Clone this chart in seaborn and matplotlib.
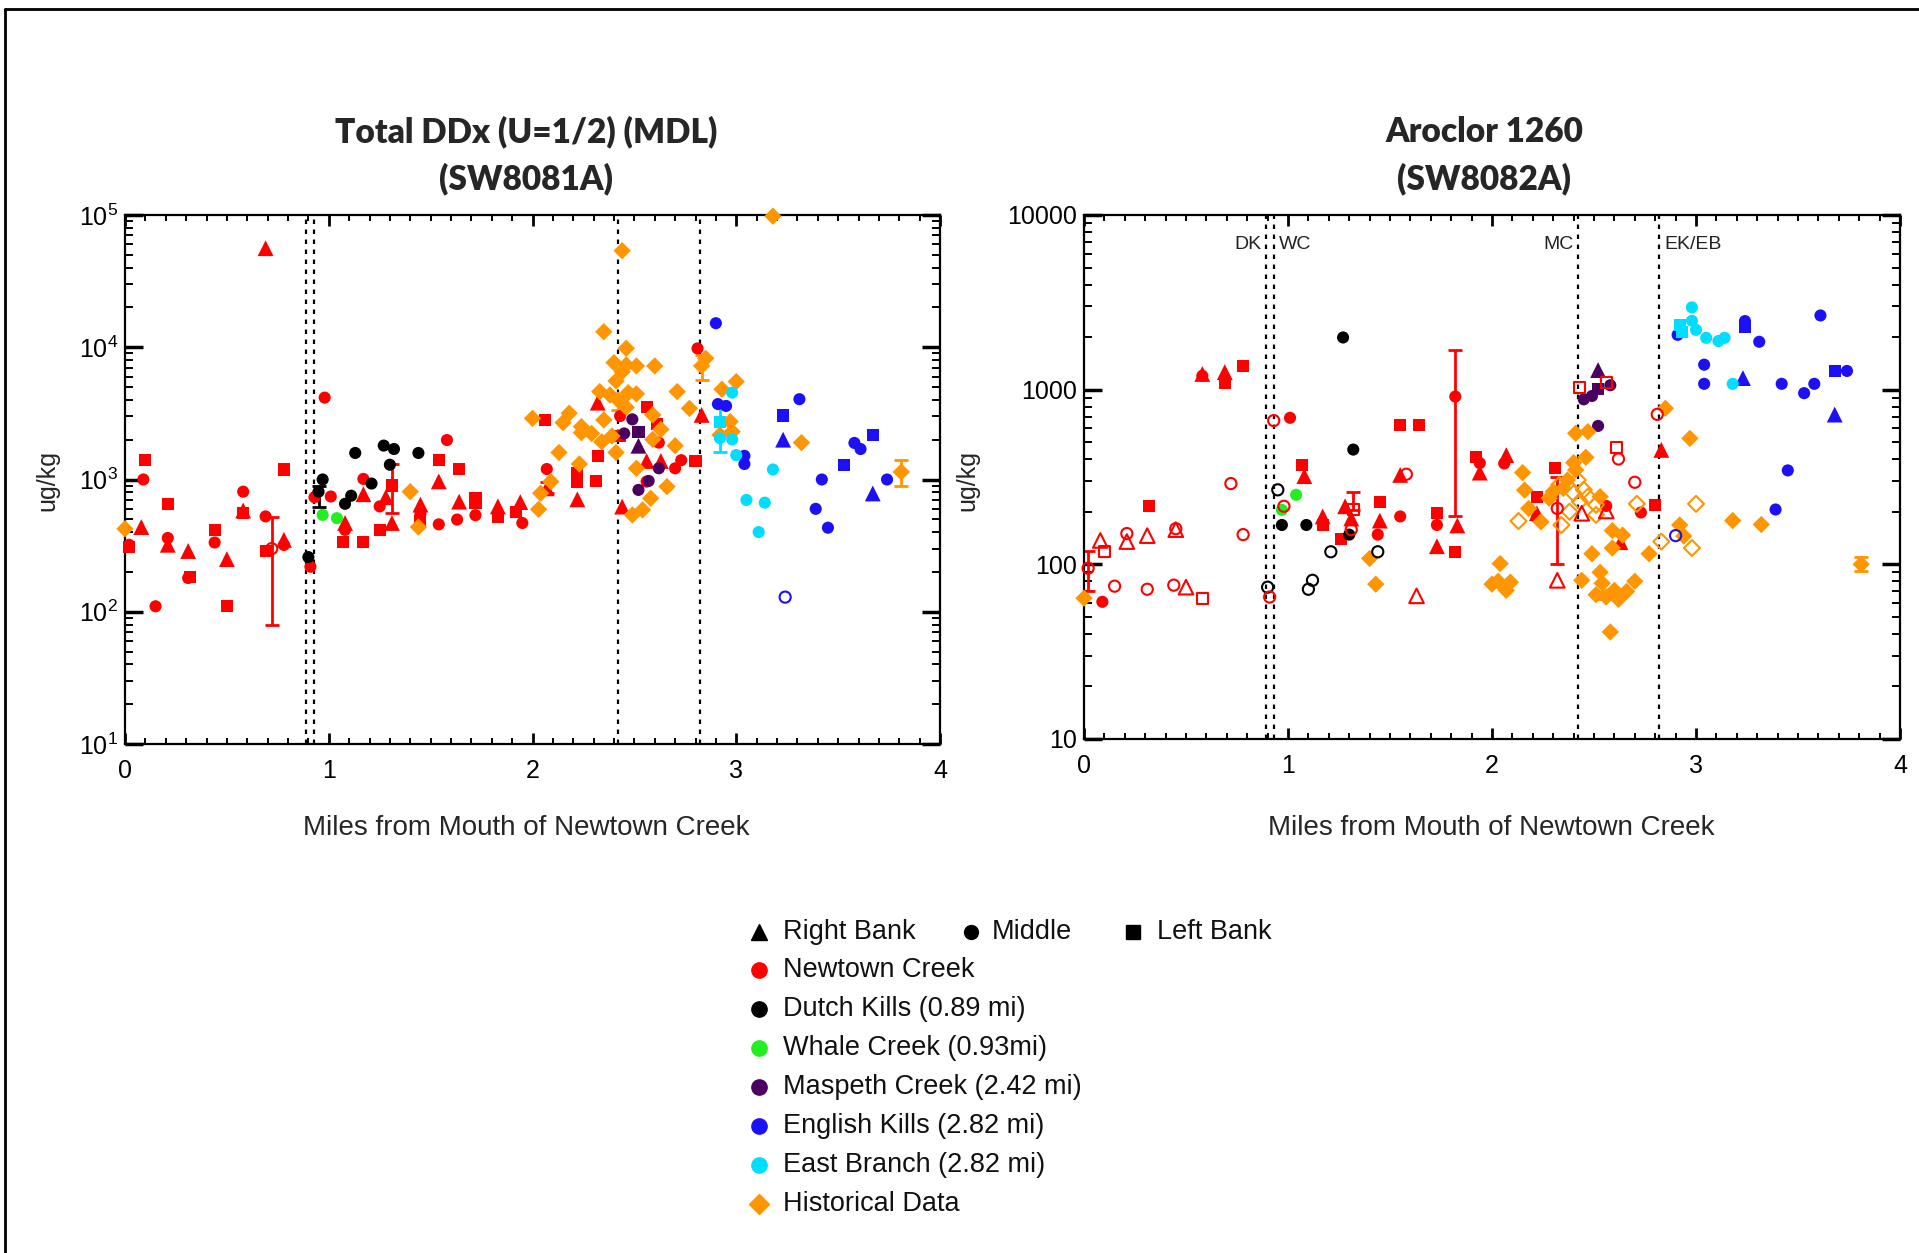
import pandas as pd
import seaborn as sns
import matplotlib.pyplot as plt
from matplotlib.lines import Line2D
from matplotlib.ticker import FixedLocator, MultipleLocator, LogLocator, NullFormatter, FuncFormatter

# <=============================================================>
#  Data (miles from mouth, ug/kg)
# <=============================================================>
# Total DDx (SW8081A)
DDX_NC_TRI = [(0.08, 437), (0.21, 321), (0.31, 288), (0.50, 250), (0.58, 583), (0.69, 56100), (0.78, 350),
              (1.08, 469), (1.17, 774), (1.31, 469), (1.28, 735), (1.45, 646), (1.54, 968), (1.64, 680),
              (1.83, 626), (1.94, 675), (2.07, 858), (2.22, 708), (2.32, 3810), (2.44, 624), (2.56, 1380),
              (2.63, 1380), (2.83, 3080)]
DDX_NC_MID = [(0.02, 321), (0.09, 1000), (0.15, 110), (0.21, 361), (0.31, 180), (0.44, 334), (0.58, 809),
              (0.69, 526), (0.78, 320), (0.91, 219), (0.93, 735), (0.98, 4160), (1.01, 744), (1.08, 416),
              (1.17, 1010), (1.25, 626), (1.45, 552), (1.54, 458), (1.58, 1987), (1.63, 498), (1.72, 537),
              (1.95, 469), (2.07, 1200), (2.43, 3020), (2.56, 964), (2.62, 1900), (2.70, 1215), (2.73, 1400),
              (2.81, 9800)]
DDX_NC_MID_OPEN = [(0.72, 300)]
DDX_NC_LEFT = [(0.02, 310), (0.10, 1400), (0.21, 652), (0.32, 184), (0.44, 416), (0.50, 110), (0.58, 560),
               (0.69, 288), (0.78, 1190), (1.07, 339), (1.17, 339), (1.25, 416), (1.31, 900), (1.45, 488),
               (1.54, 1400), (1.64, 1205), (1.72, 725), (1.72, 667), (1.83, 521), (1.92, 565), (2.06, 2820),
               (2.22, 1115), (2.22, 964), (2.31, 977), (2.32, 1510), (2.43, 2130), (2.56, 3510), (2.61, 2610),
               (2.80, 1390)]
DDX_DK_MID = [(0.90, 259), (0.95, 809), (0.97, 1000), (1.08, 655), (1.11, 754), (1.13, 1587), (1.21, 932),
              (1.27, 1805), (1.30, 1293), (1.32, 1700), (1.44, 1587)]
DDX_WC_MID = [(0.97, 540), (1.04, 510)]
DDX_MC_MID = [(2.45, 2230), (2.49, 2850), (2.52, 834), (2.57, 975), (2.62, 1215)]
DDX_MC_LEFT = [(2.52, 2300)]
DDX_MC_TRI = [(2.52, 1800)]
DDX_EK_MID = [(2.90, 15200), (2.91, 3720), (2.95, 3600), (3.04, 1510), (3.04, 1310), (3.31, 4050), (3.39, 600),
              (3.42, 1000), (3.45, 432), (3.58, 1890), (3.61, 1700), (3.74, 1000)]
DDX_EK_LEFT = [(3.23, 3050), (3.53, 1290), (3.67, 2160)]
DDX_EK_TRI = [(3.23, 2000), (3.67, 784)]
DDX_EK_MID_OPEN = [(3.24, 129)]
DDX_EB_MID = [(2.98, 4540), (2.92, 2050), (2.98, 2010), (3.00, 1530), (3.05, 700), (3.11, 400), (3.14, 668),
              (3.18, 1190)]
DDX_EB_LEFT = [(2.92, 2740)]
DDX_HIST = [(0.00, 424), (1.40, 809), (1.44, 437), (2.00, 2900), (2.03, 595), (2.04, 787), (2.09, 964),
            (2.13, 1600), (2.15, 2690), (2.18, 3170), (2.23, 1310), (2.24, 2510), (2.24, 2260), (2.29, 2230),
            (2.33, 4620), (2.34, 1930), (2.35, 2820), (2.35, 13100), (2.38, 4360), (2.39, 2130), (2.40, 7650),
            (2.41, 5560), (2.41, 1600), (2.42, 3990), (2.44, 6530), (2.44, 53700), (2.46, 9820), (2.46, 3510),
            (2.46, 7350), (2.47, 4540), (2.49, 540), (2.51, 1215), (2.51, 7220), (2.51, 4440), (2.54, 589),
            (2.58, 721), (2.59, 2010), (2.59, 3080), (2.60, 7220), (2.63, 2390), (2.66, 883), (2.70, 1800),
            (2.71, 4620), (2.77, 3450), (2.83, 7220), (2.85, 8240), (2.92, 2170), (2.93, 4810), (2.97, 2740),
            (2.98, 2300), (3.00, 5500), (3.18, 98000), (3.32, 1900), (3.81, 1140)]
# error bars: (mile, low, high, site)
DDX_ERR = [(0.72, 80, 520, 'Newtown Creek'), (1.31, 560, 1300, 'Newtown Creek'), (2.07, 790, 950, 'Newtown Creek'),
           (0.95, 617, 893, 'Dutch Kills (0.89 mi)'), (2.92, 1625, 3770, 'East Branch (2.82 mi)'),
           (2.42, 3360, 4280, 'Historical Data'), (2.83, 5660, 8730, 'Historical Data'),
           (3.81, 900, 1400, 'Historical Data')]

# Aroclor 1260 (SW8082A)
ARO_NC_TRI = [(0.58, 1230), (0.69, 1260), (1.08, 320), (1.17, 188), (1.28, 215), (1.31, 183), (1.45, 178),
              (1.55, 325), (1.73, 127), (1.83, 167), (1.94, 335), (2.07, 422), (2.22, 196), (2.63, 134),
              (2.83, 452)]
ARO_NC_MID = [(0.09, 61), (0.58, 1200), (1.01, 690), (1.44, 148), (1.55, 188), (1.73, 168), (1.82, 913),
              (1.94, 380), (2.06, 378), (2.22, 185), (2.56, 216), (2.73, 198)]
ARO_NC_LEFT = [(0.32, 215), (0.69, 1090), (0.78, 1370), (1.07, 370), (1.17, 168), (1.26, 139), (1.45, 227),
               (1.55, 627), (1.64, 625), (1.73, 197), (1.82, 117), (1.92, 413), (2.22, 242), (2.31, 357),
               (2.80, 219)]
ARO_NC_MID_OPEN = [(0.02, 95), (0.15, 75), (0.21, 150), (0.31, 72), (0.44, 76), (0.45, 160), (0.72, 290),
                   (0.78, 148), (0.91, 65), (0.93, 665), (0.98, 215), (1.31, 158), (1.58, 328), (2.32, 209),
                   (2.62, 401), (2.70, 295), (2.81, 722)]
ARO_NC_TRI_OPEN = [(0.08, 137), (0.21, 135), (0.31, 146), (0.45, 158), (0.50, 74), (1.63, 66), (2.32, 81),
                   (2.44, 196), (2.56, 202)]
ARO_NC_LEFT_OPEN = [(0.10, 118), (0.58, 64), (1.32, 205), (2.43, 1030), (2.56, 1100), (2.61, 466)]
ARO_DK_MID = [(0.97, 168), (1.09, 168), (1.27, 1990), (1.30, 148), (1.32, 454)]
ARO_DK_MID_OPEN = [(0.90, 74), (0.95, 267), (1.10, 72), (1.12, 81), (1.21, 118), (1.44, 118)]
ARO_WC_MID = [(0.97, 205), (1.04, 250)]
ARO_MC_MID = [(2.45, 880), (2.49, 920), (2.52, 620), (2.58, 1060)]
ARO_MC_LEFT = [(2.52, 1010)]
ARO_MC_TRI = [(2.52, 1295)]
ARO_EK_MID = [(2.91, 2060), (3.04, 1390), (3.04, 1080), (3.24, 2470), (3.31, 1880), (3.39, 206), (3.42, 1080),
              (3.45, 345), (3.53, 955), (3.58, 1080), (3.61, 2660), (3.74, 1280)]
ARO_EK_LEFT = [(3.24, 2300), (3.68, 1280)]
ARO_EK_TRI = [(3.23, 1165), (3.68, 720)]
ARO_EK_MID_OPEN = [(2.90, 146)]
ARO_EB_MID = [(2.98, 2960), (2.98, 2480), (3.00, 2200), (3.05, 1980), (3.11, 1900), (3.14, 1980), (3.18, 1080)]
ARO_EB_LEFT = [(2.92, 2350), (2.93, 2150)]
ARO_HIST = [(0.00, 64), (1.40, 108), (1.43, 77), (2.00, 77), (2.03, 80), (2.04, 101), (2.07, 71), (2.09, 79),
            (2.15, 335), (2.16, 266), (2.18, 209), (2.24, 175), (2.28, 239), (2.30, 261), (2.35, 272),
            (2.37, 304), (2.40, 382), (2.41, 347), (2.41, 563), (2.44, 81), (2.46, 410), (2.47, 575),
            (2.49, 115), (2.51, 67), (2.53, 244), (2.53, 90), (2.54, 78), (2.56, 65), (2.58, 41), (2.59, 156),
            (2.59, 124), (2.60, 71), (2.62, 63), (2.64, 147), (2.66, 70), (2.70, 80), (2.77, 115), (2.85, 782),
            (2.92, 168), (2.94, 145), (2.97, 526), (3.18, 178), (3.32, 169), (3.81, 100)]
ARO_HIST_OPEN = [(2.13, 177), (2.33, 285), (2.34, 168), (2.38, 200), (2.40, 255), (2.42, 304), (2.43, 229),
                 (2.45, 267), (2.47, 244), (2.51, 219), (2.51, 192), (2.71, 222), (2.83, 135), (2.98, 124),
                 (3.00, 222)]
ARO_ERR = [(0.02, 70, 120, 'Newtown Creek'), (1.32, 205, 258, 'Newtown Creek'), (1.82, 190, 1680, 'Newtown Creek'),
           (2.32, 101, 318, 'Newtown Creek'), (2.54, 63, 78, 'Historical Data'), (3.81, 92, 110, 'Historical Data')]

SIDE_CHANNELS = [0.89, 0.93, 2.42, 2.82]
CHANNEL_TAGS = ['DK', 'WC', 'MC', 'EK/EB']
SITES = ['Newtown Creek', 'Dutch Kills (0.89 mi)', 'Whale Creek (0.93mi)', 'Maspeth Creek (2.42 mi)',
         'English Kills (2.82 mi)', 'East Branch (2.82 mi)', 'Historical Data']
SITE_COLORS = ['#FF0000', '#000000', '#22EE22', '#4A0060', '#1C10F5', '#00DDFF', '#FF9500']
POSITIONS = ['Right Bank', 'Middle', 'Left Bank']

# <=============================================================>
#  Tables built from the lists
# <=============================================================>
NC, DK, WC, MC, EK, EB, HI = SITES
RB, MD, LB, HD = 'Right Bank', 'Middle', 'Left Bank', 'Historical'
DDX_SETS = [(NC, RB, True, DDX_NC_TRI), (NC, MD, True, DDX_NC_MID), (NC, LB, True, DDX_NC_LEFT),
            (NC, MD, False, DDX_NC_MID_OPEN), (DK, MD, True, DDX_DK_MID), (WC, MD, True, DDX_WC_MID),
            (MC, MD, True, DDX_MC_MID), (MC, LB, True, DDX_MC_LEFT), (MC, RB, True, DDX_MC_TRI),
            (HI, HD, True, DDX_HIST), (EK, MD, True, DDX_EK_MID), (EK, LB, True, DDX_EK_LEFT),
            (EK, RB, True, DDX_EK_TRI), (EK, MD, False, DDX_EK_MID_OPEN), (EB, MD, True, DDX_EB_MID),
            (EB, LB, True, DDX_EB_LEFT)]
ARO_SETS = [(NC, RB, True, ARO_NC_TRI), (NC, MD, True, ARO_NC_MID), (NC, LB, True, ARO_NC_LEFT),
            (NC, MD, False, ARO_NC_MID_OPEN), (NC, RB, False, ARO_NC_TRI_OPEN), (NC, LB, False, ARO_NC_LEFT_OPEN),
            (DK, MD, True, ARO_DK_MID), (DK, MD, False, ARO_DK_MID_OPEN), (WC, MD, True, ARO_WC_MID),
            (MC, MD, True, ARO_MC_MID), (MC, LB, True, ARO_MC_LEFT), (MC, RB, True, ARO_MC_TRI),
            (HI, HD, True, ARO_HIST), (HI, HD, False, ARO_HIST_OPEN), (EK, MD, True, ARO_EK_MID),
            (EK, LB, True, ARO_EK_LEFT), (EK, RB, True, ARO_EK_TRI), (EK, MD, False, ARO_EK_MID_OPEN),
            (EB, MD, True, ARO_EB_MID), (EB, LB, True, ARO_EB_LEFT)]

PALETTE = dict(zip(SITES, SITE_COLORS))
MARKERS = {RB: '^', MD: 'o', LB: 's', HD: 'D'}
MARKER_AREA = {RB: 130, MD: 76, LB: 76, HD: 78}


def to_frame(sets):
    rows = []
    for site, pos, filled, pts in sets:
        for mile, val in pts:
            rows.append({'mile': mile, 'value': val, 'site': site, 'pos': pos, 'filled': filled})
    return pd.DataFrame(rows)


# <=============================================================>
#  Style
# <=============================================================>
W, H, DPI = 1919, 1253, 100
sns.set_style('ticks')
plt.rcParams['font.family'] = ['Liberation Sans', 'DejaVu Sans']
plt.rcParams['mathtext.default'] = 'regular'
plt.rcParams['axes.linewidth'] = 1.6


def fx(px):
    return px / W


def fy(py):
    return 1 - py / H


def draw_panel(ax, sets, errs, ymax):
    df = to_frame(sets)
    solid = df[df['filled']]
    sns.scatterplot(data=solid, x='mile', y='value', hue='site', style='pos', size='pos',
                    palette=PALETTE, markers=MARKERS, sizes=MARKER_AREA, linewidth=0, legend=False,
                    ax=ax, zorder=3, clip_on=False)
    for (site, pos), sub in df[~df['filled']].groupby(['site', 'pos']):
        sns.scatterplot(data=sub, x='mile', y='value', marker=MARKERS[pos], s=MARKER_AREA[pos] * 0.85,
                        facecolor='none', edgecolor=PALETTE[site], linewidth=1.5, legend=False,
                        ax=ax, zorder=3, clip_on=False)
    for mile, lo, hi, site in errs:
        mid = (lo * hi) ** 0.5
        ax.errorbar([mile], [mid], yerr=[[mid - lo], [hi - mid]], fmt='none', ecolor=PALETTE[site],
                    elinewidth=2, capsize=5, capthick=2, zorder=2)
    for xv in SIDE_CHANNELS:
        ax.axvline(xv, color='black', linestyle=(0, (2, 2.5)), linewidth=1.6, zorder=1)
    ax.set_yscale('log')
    ax.set_xlim(0, 4)
    ax.set_ylim(10, ymax)
    ax.xaxis.set_major_locator(FixedLocator([0, 1, 2, 3, 4]))
    ax.xaxis.set_minor_locator(MultipleLocator(0.1))
    ax.yaxis.set_minor_locator(LogLocator(base=10, subs=range(2, 10)))
    ax.yaxis.set_minor_formatter(NullFormatter())
    ax.tick_params(which='both', direction='in', top=True, right=True, colors='black', labelsize=18)
    ax.tick_params(axis='x', which='major', length=8, width=2, pad=11)
    ax.tick_params(axis='x', which='minor', length=4.5, width=1.4)
    ax.tick_params(axis='y', which='major', length=13, width=2.5, pad=5)
    ax.tick_params(axis='y', which='minor', length=6, width=1.4)
    ax.set_xlabel('')
    ax.set_ylabel('')
    for sp in ax.spines.values():
        sp.set_linewidth(1.6)
        sp.set_color('black')


fig = plt.figure(figsize=(W / DPI, H / DPI), dpi=DPI)
ax1 = fig.add_axes([fx(125), fy(744), (940 - 125) / W, (744 - 215) / H])
ax2 = fig.add_axes([fx(1084), fy(739), (1900 - 1084) / W, (739 - 215) / H])

draw_panel(ax1, DDX_SETS, DDX_ERR, 1e5)
draw_panel(ax2, ARO_SETS, ARO_ERR, 1e4)
ax2.yaxis.set_major_formatter(FuncFormatter(lambda v, p: f'{v:g}'))

# channel tags on the Aroclor panel
for xv, tag in zip(SIDE_CHANNELS, CHANNEL_TAGS):
    left_side = tag in ('DK', 'MC')
    ax2.text(xv - 0.02 if left_side else xv + 0.025, 6800, tag, ha='right' if left_side else 'left',
             va='center', fontsize=14, color='#222222')

# titles and axis labels
title_font = ['Lato', 'DejaVu Sans']
for cx, lines in [(526, ['Total DDx (U=1/2) (MDL)', '(SW8081A)']), (1484, ['Aroclor 1260', '(SW8082A)'])]:
    for cy, line in zip([132, 179], lines):
        fig.text(fx(cx), fy(cy), line, ha='center', va='center', fontsize=24, fontweight='heavy',
                 family=title_font)
fig.text(fx(526), fy(828), 'Miles from Mouth of Newtown Creek', ha='center', va='center', fontsize=20)
fig.text(fx(1491), fy(828), 'Miles from Mouth of Newtown Creek', ha='center', va='center', fontsize=20)
fig.text(fx(47), fy(480), 'ug/kg', ha='center', va='center', rotation=90, fontsize=18)
fig.text(fx(967), fy(480), 'ug/kg', ha='center', va='center', rotation=90, fontsize=18)

# legend
shape_keys = [(RB, 759, 783), (MD, 971, 992), (LB, 1133, 1157)]
for pos, mx, tx in shape_keys:
    fig.add_artist(Line2D([fx(mx)], [fy(932)], marker=MARKERS[pos], color='black',
                          markersize=12 if pos == RB else 10, linestyle='none', transform=fig.transFigure))
    fig.text(fx(tx), fy(932), pos, ha='left', va='center', fontsize=19.5, color='#111111')
row_y = 970
for site, col in zip(SITES, SITE_COLORS):
    mk = 'D' if site == HI else 'o'
    fig.add_artist(Line2D([fx(759)], [fy(row_y)], marker=mk, color=col, markersize=11 if mk == 'o' else 10,
                          linestyle='none', transform=fig.transFigure))
    fig.text(fx(783), fy(row_y), site, ha='left', va='center', fontsize=19.5, color='#111111')
    row_y += 39

# frame lines (left and top edges)
fig.add_artist(Line2D([fx(5), fx(5)], [0, fy(9)], color='black', linewidth=2, transform=fig.transFigure))
fig.add_artist(Line2D([fx(5), 1], [fy(9), fy(9)], color='black', linewidth=2, transform=fig.transFigure))

fig.savefig('out.png', dpi=DPI)
